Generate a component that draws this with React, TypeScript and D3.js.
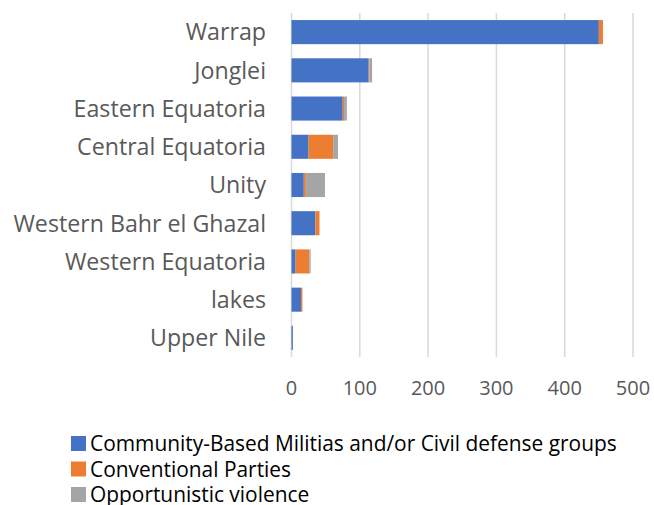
import React from "react";
import * as d3 from "d3";

const categories = ["Warrap", "Jonglei", "Eastern Equatoria", "Central Equatoria", "Unity", "Western Bahr el Ghazal", "Western Equatoria", "lakes", "Upper Nile"];
const militias = [450, 113, 75, 25, 18, 35, 6, 14, 2];
const conventional = [6, 1, 2, 36, 3, 6, 20, 2, 0];
const opportunistic = [0, 4, 4, 7, 28, 0, 2, 0, 0];
const seriesNames = ["Community-Based Militias and/or Civil defense groups", "Conventional Parties", "Opportunistic violence"];
const colors = ["#4472C4", "#ED7D31", "#A5A5A5"];
const ticks = [0, 100, 200, 300, 400, 500];

export default function App() {
  const W = 654, H = 505;
  const x = d3.scaleLinear().domain([0, 500]).range([291.5, 633]);
  const y = d3.scaleBand().domain(categories).range([13, 357]).paddingInner(0.37).paddingOuter(0.185);
  const rows = categories.map((c, i) => ({ c, v: [militias[i], conventional[i], opportunistic[i]] }));
  const font = "'Open Sans', sans-serif";
  return (
    <svg width={W} height={H} style={{ position: "absolute", left: 0, top: 0 }} fontFamily={font}>
      <rect width={W} height={H} fill="#fff" />
      {ticks.map(t => (
        <line key={t} x1={x(t)} x2={x(t)} y1={13} y2={357} stroke="#D9D9D9" strokeWidth={1.5} />
      ))}
      {rows.map(r => {
        let acc = 0;
        return r.v.map((v, k) => {
          const x0 = acc; acc += v;
          return v > 0 ? (
            <rect key={r.c + k} x={x(x0)} y={y(r.c)} width={x(acc) - x(x0)} height={y.bandwidth()} fill={colors[k]} />
          ) : null;
        });
      })}
      {categories.map(c => (
        <text key={c} x={266} y={(y(c) as number) + y.bandwidth() / 2} dy="0.36em" textAnchor="end" fontSize={23.2} fill="#595959">{c}</text>
      ))}
      {ticks.map(t => (
        <text key={t} x={x(t)} y={388} dy="0.36em" textAnchor="middle" fontSize={20} fill="#595959">{t}</text>
      ))}
      {seriesNames.map((s, i) => (
        <g key={s} transform={`translate(71, ${443.5 + i * 25.5})`}>
          <rect x={0} y={-7.5} width={15} height={15} fill={colors[i]} />
          <text x={19} y={0} dy="0.36em" fontSize={20.9} fill="#000">{s}</text>
        </g>
      ))}
    </svg>
  );
}
